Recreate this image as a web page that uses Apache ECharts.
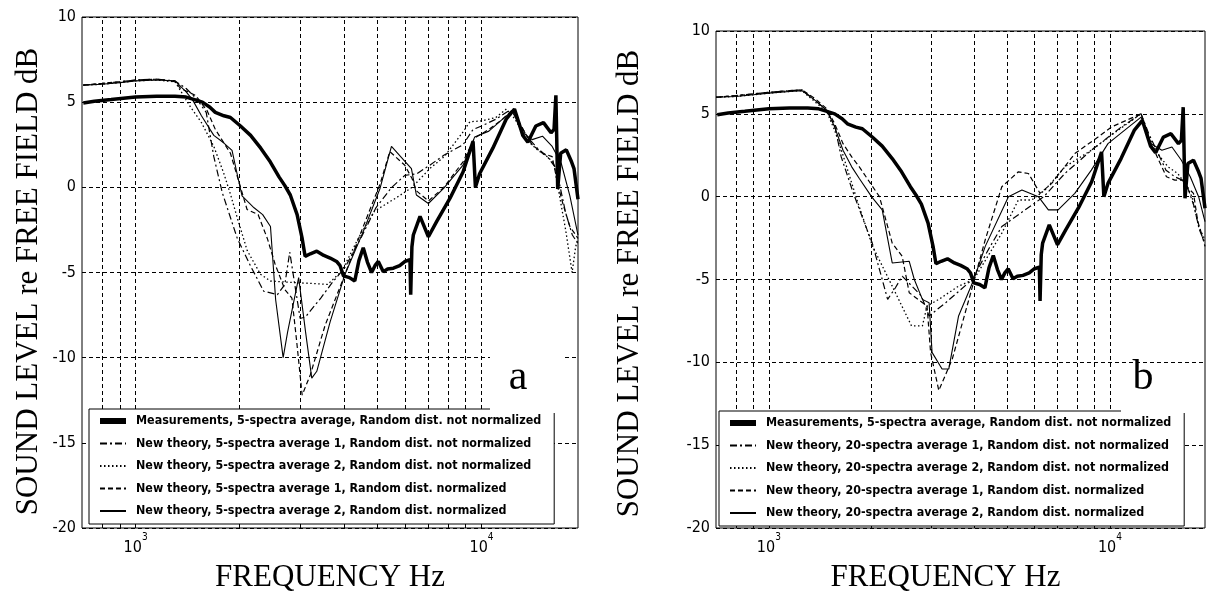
<!DOCTYPE html>
<html>
<head>
<meta charset="utf-8">
<script src="https://cdn.jsdelivr.net/npm/echarts@6/dist/echarts.min.js"></script>
<style>
html, body { margin: 0; padding: 0; background: #fff; }
#main { width: 1208px; height: 598px; }
</style>
</head>
<body>
<div id="main"></div>
<script>
// [frequency Hz, level dB]
var measured = [[706,4.95],[760,5.05],[850,5.15],[1000,5.3],[1150,5.35],[1300,5.35],[1400,5.3],[1480,5.15],[1560,5.0],[1640,4.7],[1700,4.4],[1800,4.2],[1880,4.1],[2010,3.6],[2150,3.05],[2300,2.3],[2450,1.5],[2600,0.6],[2700,0.1],[2800,-0.45],[2930,-1.6],[3030,-3.0],[3090,-4.05],[3200,-3.9],[3340,-3.75],[3500,-4.0],[3650,-4.15],[3810,-4.35],[3900,-4.6],[3990,-5.2],[4150,-5.3],[4300,-5.5],[4420,-4.3],[4550,-3.55],[4680,-4.4],[4810,-5.0],[4920,-4.6],[5030,-4.35],[5200,-4.95],[5350,-4.8],[5560,-4.75],[5800,-4.6],[6010,-4.35],[6210,-4.25],[6240,-6.3],[6290,-3.5],[6350,-2.8],[6640,-1.7],[7020,-2.9],[7420,-2.0],[8100,-0.65],[8840,0.9],[9450,2.7],[9600,0.0],[9870,0.8],[10780,2.3],[11780,4.0],[12450,4.6],[13160,3.05],[13610,2.65],[14350,3.6],[15100,3.8],[15880,3.2],[16200,3.4],[16400,5.4],[16600,-0.1],[16930,2.0],[17580,2.2],[18200,1.5],[18500,1.1],[19000,-0.7]];

// panel a: 5-spectra averages
var aDashDot = [[706,6.0],[800,6.1],[900,6.2],[1000,6.3],[1150,6.35],[1300,6.25],[1400,5.8],[1500,5.2],[1600,4.4],[1683,1.8],[1780,-0.3],[1968,-3.0],[2147,-4.6],[2346,-6.1],[2570,-6.3],[2700,-5.7],[2790,-3.8],[2900,-6.0],[2990,-7.7],[3100,-7.6],[3430,-6.5],[3700,-5.6],[4030,-4.7],[4500,-2.9],[4950,-1.2],[5500,0.0],[6000,0.7],[6500,0.8],[7085,1.3],[7800,1.9],[8840,2.5],[9450,3.4],[10000,3.6],[11000,4.0],[12000,4.5],[12500,4.3],[13500,3.0],[14500,2.3],[15500,1.8],[16300,1.2],[16800,0.2],[17500,-1.5],[18300,-2.8],[19000,-3.3]];
var aDotted = [[706,6.0],[800,6.05],[900,6.15],[1000,6.25],[1150,6.3],[1300,6.2],[1443,4.7],[1550,3.8],[1683,2.4],[1800,0.8],[1880,-0.4],[1968,-1.8],[2101,-3.7],[2295,-5.1],[2454,-5.5],[2920,-5.6],[3300,-5.65],[3590,-5.7],[3950,-4.9],[4400,-3.0],[4900,-1.4],[5680,-0.6],[6300,0.0],[7085,1.1],[7800,1.8],[8840,3.25],[9250,3.85],[10000,3.9],[11000,4.1],[11800,4.6],[12500,4.0],[13500,2.8],[14500,2.2],[15500,1.8],[16200,1.4],[16800,-0.5],[17500,-2.5],[18270,-5.0],[18700,-3.5],[19000,-3.0]];
var aDashed = [[706,6.0],[800,6.1],[900,6.2],[1000,6.3],[1150,6.35],[1300,6.2],[1350,5.8],[1490,5.4],[1610,4.5],[1700,3.4],[1800,2.6],[1880,2.0],[2031,-0.3],[2100,-1.3],[2260,-1.6],[2403,-3.0],[2530,-4.5],[2700,-6.0],[2830,-6.5],[2920,-9.0],[3030,-12.2],[3200,-11.0],[3530,-8.1],[4030,-5.1],[4550,-2.3],[5090,0.2],[5430,2.1],[6000,1.3],[6300,0.5],[6480,-0.2],[7020,-0.8],[7780,0.0],[8840,1.5],[9550,2.9],[10500,3.4],[11500,4.0],[12200,4.5],[13000,3.6],[14000,2.5],[15000,2.0],[16000,1.8],[16600,0.2],[17200,-1.0],[18000,-2.3],[19000,-3.0]];
var aSolid = [[706,6.0],[800,6.05],[900,6.15],[1000,6.25],[1150,6.3],[1300,6.25],[1400,5.6],[1460,5.15],[1550,4.2],[1683,3.05],[1800,2.6],[1900,2.17],[1960,0.9],[2031,-0.5],[2200,-1.2],[2330,-1.6],[2454,-2.3],[2540,-6.6],[2670,-10.0],[2750,-8.5],[2960,-5.3],[3100,-8.5],[3230,-11.2],[3340,-10.8],[3650,-7.9],[4030,-5.1],[4550,-2.6],[5090,-0.05],[5490,2.4],[6270,1.1],[6480,-0.45],[7020,-0.95],[7780,-0.05],[8840,1.3],[9550,2.95],[10500,3.3],[11500,4.0],[12300,4.5],[13000,3.3],[14000,2.8],[15000,3.0],[16000,2.4],[17000,1.4],[18000,-0.5],[19000,-2.8]];

// panel b: 20-spectra averages
var bDashDot = [[700,6.0],[800,6.1],[900,6.2],[1000,6.3],[1150,6.4],[1250,6.45],[1370,5.8],[1480,5.2],[1560,4.3],[1630,2.4],[1770,0.2],[1900,-1.5],[2010,-2.8],[2230,-6.2],[2350,-5.5],[2460,-4.8],[2600,-5.3],[2800,-6.0],[2950,-7.2],[3300,-6.4],[3950,-5.0],[4400,-3.2],[4820,-1.8],[5640,-0.8],[6400,0.0],[7380,1.4],[8820,2.8],[10790,4.2],[12340,5.0],[13000,3.8],[13700,2.8],[14600,1.6],[15500,1.2],[16300,1.0],[17000,0.4],[17600,-0.5],[18300,-2.0],[19000,-2.8]];
var bDotted = [[700,6.0],[800,6.05],[900,6.15],[1000,6.25],[1150,6.35],[1250,6.4],[1370,5.7],[1480,5.1],[1560,4.0],[1650,2.5],[1820,-0.3],[2015,-3.0],[2300,-5.4],[2620,-7.8],[2820,-7.8],[2910,-6.6],[3150,-6.2],[3600,-5.4],[3990,-5.0],[4820,-2.2],[5390,-0.2],[5900,-0.2],[6450,0.4],[7380,1.8],[8820,2.8],[10550,4.0],[12340,5.0],[13000,3.6],[13800,2.6],[14800,1.8],[15800,1.4],[16600,0.8],[17400,0.0],[18200,-1.8],[19000,-2.6]];
var bDashed = [[700,6.0],[800,6.1],[900,6.2],[1000,6.3],[1150,6.4],[1250,6.45],[1370,5.9],[1480,5.3],[1560,4.4],[1650,3.2],[1750,2.4],[1842,1.8],[2110,0.0],[2300,-2.8],[2460,-3.6],[2580,-5.8],[2910,-6.6],[2980,-9.4],[3150,-11.7],[3450,-9.8],[3860,-6.2],[4310,-2.6],[4820,0.6],[5390,1.5],[5770,1.4],[6240,0.2],[6750,0.8],[7890,2.6],[9230,3.6],[10090,4.2],[12340,5.0],[13000,3.5],[13620,2.6],[14650,1.2],[15500,1.0],[16330,1.0],[17000,0.5],[17580,0.2],[18100,-1.5],[18540,-2.2],[19000,-3.0]];
var bSolid = [[700,6.0],[800,6.05],[900,6.15],[1000,6.25],[1150,6.35],[1250,6.4],[1370,5.8],[1480,5.2],[1560,4.2],[1650,2.8],[1750,1.8],[1842,1.1],[2000,0.0],[2150,-0.8],[2300,-4.0],[2580,-3.9],[2670,-5.0],[2820,-6.2],[2950,-6.4],[3010,-9.4],[3220,-10.4],[3370,-10.4],[3600,-7.2],[3990,-5.0],[4310,-3.0],[5040,0.0],[5520,0.4],[6170,0.0],[6600,-0.8],[7050,-0.8],[7890,0.2],[8820,1.6],[9870,3.2],[11030,4.0],[12340,4.8],[13200,3.2],[14200,2.8],[15200,3.0],[16200,2.2],[17200,1.2],[18200,0.0],[19000,-1.5]];

var gridFreqs = [800, 900, 1000, 2000, 3000, 4000, 5000, 6000, 7000, 8000, 9000, 10000];

var namesA = [
  'Measurements, 5-spectra average, Random dist. not normalized',
  'New theory, 5-spectra average 1, Random dist. not normalized',
  'New theory, 5-spectra average 2, Random dist. not normalized',
  'New theory, 5-spectra average 1, Random dist. normalized',
  'New theory, 5-spectra average 2, Random dist. normalized'
];
var namesB = [
  'Measurements, 5-spectra average, Random dist. not normalized',
  'New theory, 20-spectra average 1, Random dist. not normalized',
  'New theory, 20-spectra average 2, Random dist. not normalized',
  'New theory, 20-spectra average 1, Random dist. normalized',
  'New theory, 20-spectra average 2, Random dist. normalized'
];

var narrow = '"DejaVu Sans Condensed", "DejaVu Sans", sans-serif';
var serif = '"Liberation Serif", "DejaVu Serif", serif';

var styles = {
  meas: { width: 3.5, type: 'solid' },
  dashDot: { width: 1.2, type: [7, 3, 2, 3] },
  dotted: { width: 1.3, type: [1.5, 2.5] },
  dashed: { width: 1.2, type: [5, 3] },
  solid: { width: 1.1, type: 'solid' }
};

function line(name, data, idx, st) {
  return {
    name: name, type: 'line', xAxisIndex: idx, yAxisIndex: idx, data: data,
    symbol: 'none', showSymbol: false, animation: false, z: 3,
    lineStyle: { color: '#000', width: st.width, type: st.type },
    itemStyle: { color: '#000' }
  };
}

function gridLines(idx) {
  return {
    type: 'line', xAxisIndex: idx, yAxisIndex: idx, data: [], silent: true, z: 1,
    markLine: {
      z: 1, silent: true, animation: false, symbol: ['none', 'none'],
      label: { show: false },
      lineStyle: { color: '#000', type: [4, 3], width: 1 },
      data: gridFreqs.map(function (f) { return { xAxis: f }; })
    }
  };
}

function xAxis(idx, pad) {
  return {
    type: 'log', logBase: 10, gridIndex: idx, min: 700, max: 19000,
    axisLine: { show: false }, axisTick: { show: false }, splitLine: { show: false },
    axisLabel: {
      margin: 4,
      formatter: function (v) {
        var l = Math.log10(v), e = Math.round(l);
        return Math.abs(l - e) < 1e-6 ? '{b|10}{e|' + e + '}' : '';
      },
      rich: {
        b: { fontFamily: narrow, fontSize: 16, color: '#000', lineHeight: 24, verticalAlign: 'bottom' },
        e: { fontFamily: narrow, fontSize: 10, color: '#000', lineHeight: 24, verticalAlign: 'top' }
      }
    },
    name: 'FREQUENCY Hz', nameLocation: 'middle', nameGap: 34,
    nameTextStyle: { fontFamily: serif, fontSize: 31, color: '#000', padding: pad }
  };
}

function yAxis(idx, gap, pad) {
  return {
    type: 'value', gridIndex: idx, min: -20, max: 10, interval: 5,
    axisLine: { show: false }, axisTick: { show: false },
    axisLabel: { margin: 6, fontFamily: narrow, fontSize: 16, color: '#000' },
    splitLine: { lineStyle: { color: '#000', type: [4, 3], width: 1 } },
    name: 'SOUND LEVEL re FREE FIELD dB', nameLocation: 'middle', nameGap: gap,
    nameTextStyle: { fontFamily: serif, fontSize: 31, color: '#000', padding: pad }
  };
}

function legend(left, top, names) {
  return {
    orient: 'vertical', left: left, top: top, padding: [6, 13, 7, 8],
    itemWidth: 26, itemHeight: 14, itemGap: 10.5, selectedMode: false,
    backgroundColor: '#fff', borderColor: '#000', borderWidth: 1, z: 4,
    itemStyle: { opacity: 0 },
    textStyle: { fontFamily: narrow, fontWeight: 'bold', fontSize: 12.4, color: '#000', padding: [0, 0, 0, 5] },
    data: names.map(function (n, i) {
      return i === 0 ? { name: n, lineStyle: { width: 6 } } : { name: n };
    })
  };
}

var chart = echarts.init(document.getElementById('main'));
chart.setOption({
  backgroundColor: '#fff',
  animation: false,
  grid: [
    { left: 82, top: 17, width: 496, height: 515, show: true, borderColor: '#000', borderWidth: 1, backgroundColor: '#fff' },
    { left: 716, top: 31, width: 492, height: 499, show: true, borderColor: '#000', borderWidth: 1, backgroundColor: '#fff' }
  ],
  xAxis: [xAxis(0, [0, 0, 0, 0]), xAxis(1, [0, 30, 0, 0])],
  yAxis: [yAxis(0, 38, [0, 18, 0, 0]), yAxis(1, 71, [0, 8, 0, 0])],
  legend: [legend(89, 409, namesA), legend(719, 411, namesB)],
  series: [
    gridLines(0),
    line(namesA[1], aDashDot, 0, styles.dashDot),
    line(namesA[2], aDotted, 0, styles.dotted),
    line(namesA[3], aDashed, 0, styles.dashed),
    line(namesA[4], aSolid, 0, styles.solid),
    line(namesA[0], measured, 0, styles.meas),
    gridLines(1),
    line(namesB[1], bDashDot, 1, styles.dashDot),
    line(namesB[2], bDotted, 1, styles.dotted),
    line(namesB[3], bDashed, 1, styles.dashed),
    line(namesB[4], bSolid, 1, styles.solid),
    line(namesB[0], measured, 1, styles.meas)
  ],
  graphic: [
    { type: 'rect', z: 100, shape: { x: 490, y: 350, width: 75, height: 63 }, style: { fill: '#fff' } },
    { type: 'text', z: 101, x: 518, y: 378, style: { text: 'a', fontFamily: serif, fontSize: 42, fill: '#000', align: 'center', verticalAlign: 'middle' } },
    { type: 'rect', z: 100, shape: { x: 1121, y: 366, width: 65, height: 47 }, style: { fill: '#fff' } },
    { type: 'text', z: 101, x: 1143, y: 378, style: { text: 'b', fontFamily: serif, fontSize: 42, fill: '#000', align: 'center', verticalAlign: 'middle' } }
  ]
});
</script>
</body>
</html>
